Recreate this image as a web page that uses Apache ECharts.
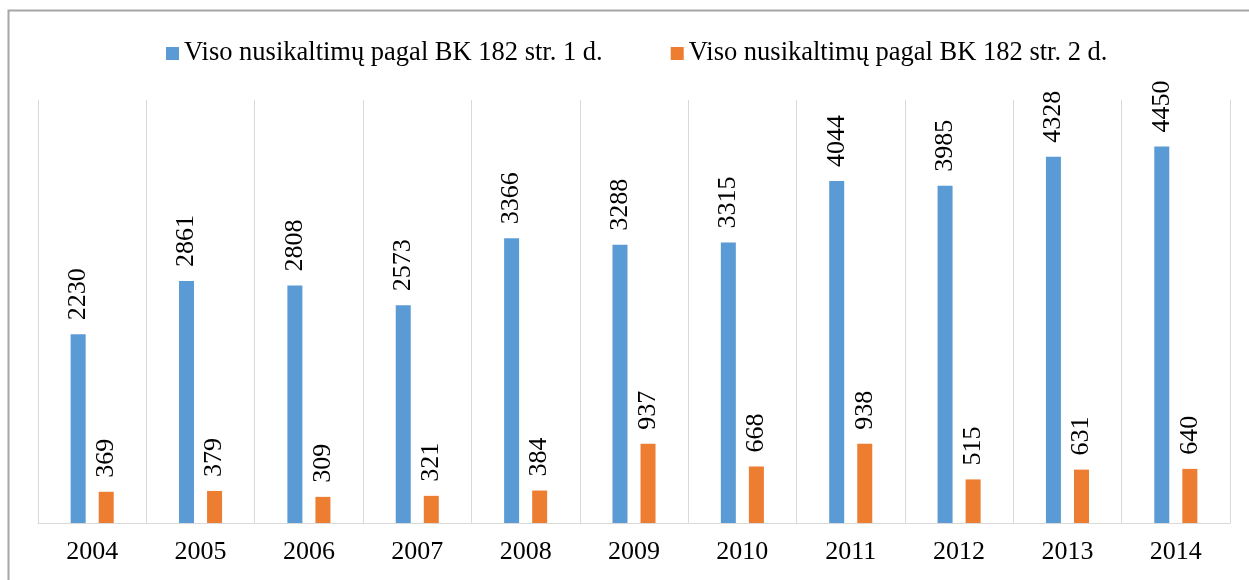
<!DOCTYPE html>
<html>
<head>
<meta charset="utf-8">
<script src="https://cdn.jsdelivr.net/npm/echarts@6/dist/echarts.min.js"></script>
<style>
  html, body { margin: 0; padding: 0; background: #fff; }
  #chart { width: 1249px; height: 580px; }
</style>
</head>
<body>
<div id="chart"></div>
<script>
var years = ['2004', '2005', '2006', '2007', '2008', '2009', '2010', '2011', '2012', '2013', '2014'];
var part1 = [2230, 2861, 2808, 2573, 3366, 3288, 3315, 4044, 3985, 4328, 4450];
var part2 = [369, 379, 309, 321, 384, 937, 668, 938, 515, 631, 640];
var names = ['Viso nusikaltimų pagal BK 182 str. 1 d.', 'Viso nusikaltimų pagal BK 182 str. 2 d.'];

var font = 'Liberation Serif';
var myChart = echarts.init(document.getElementById('chart'));

var labelStyle = {
  show: true,
  position: 'top',
  rotate: 90,
  align: 'left',
  verticalAlign: 'middle',
  distance: 14,
  fontFamily: font,
  fontSize: 26,
  color: '#000'
};

var option = {
  animation: false,
  graphic: [{
    type: 'rect',
    shape: { x: 8.5, y: 10.5, width: 1260, height: 600 },
    style: { fill: 'none', stroke: '#a6a6a6', lineWidth: 2 },
    silent: true
  }],
  legend: {
    top: 35,
    left: 161,
    itemWidth: 13,
    itemHeight: 13,
    itemGap: 68,
    icon: 'rect',
    textStyle: { fontFamily: font, fontSize: 26.5, color: '#000' },
    data: names
  },
  grid: {
    left: 38,
    right: 19,
    top: 100,
    bottom: 57
  },
  xAxis: {
    type: 'category',
    data: years,
    axisTick: { show: false },
    axisLine: { lineStyle: { color: '#d9d9d9', width: 1 } },
    splitLine: { show: true, lineStyle: { color: '#d9d9d9', width: 1 } },
    axisLabel: { fontFamily: font, fontSize: 26, color: '#000', margin: 16 }
  },
  yAxis: {
    type: 'value',
    min: 0,
    max: 5000,
    position: 'right',
    axisLine: { show: true, lineStyle: { color: '#d9d9d9', width: 1 } },
    axisTick: { show: false },
    axisLabel: { show: false },
    splitLine: { show: false }
  },
  series: [
    {
      name: names[0],
      type: 'bar',
      data: part1,
      barWidth: 15,
      barGap: '87%',
      itemStyle: { color: '#5b9bd5' },
      label: labelStyle
    },
    {
      name: names[1],
      type: 'bar',
      data: part2,
      barWidth: 15,
      itemStyle: { color: '#ed7d31' },
      label: labelStyle
    }
  ]
};

myChart.setOption(option);
</script>
</body>
</html>
